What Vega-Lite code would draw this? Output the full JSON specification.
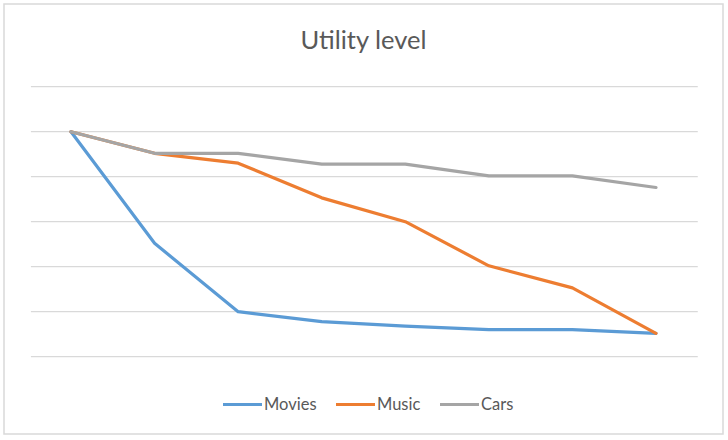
{
  "$schema": "https://vega.github.io/schema/vega-lite/v6.json",
  "width": 719,
  "height": 430,
  "autosize": {"type": "none"},
  "padding": {"left": 4, "top": 4, "right": 5, "bottom": 6},
  "background": "white",
  "config": {
    "view": {"stroke": "#d9d9d9", "strokeWidth": 1.5},
    "font": "Lato"
  },
  "title": {
    "text": "Utility level",
    "font": "Lato",
    "fontSize": 25.5,
    "fontWeight": "normal",
    "color": "#595959",
    "anchor": "middle",
    "frame": "group",
    "offset": -50
  },
  "datasets": {
    "series": [
      {"step": 1, "series": "Movies", "value": 5.0},
      {"step": 2, "series": "Movies", "value": 2.52},
      {"step": 3, "series": "Movies", "value": 1.0},
      {"step": 4, "series": "Movies", "value": 0.78},
      {"step": 5, "series": "Movies", "value": 0.68},
      {"step": 6, "series": "Movies", "value": 0.6},
      {"step": 7, "series": "Movies", "value": 0.6},
      {"step": 8, "series": "Movies", "value": 0.52},
      {"step": 1, "series": "Music", "value": 5.0},
      {"step": 2, "series": "Music", "value": 4.52},
      {"step": 3, "series": "Music", "value": 4.3},
      {"step": 4, "series": "Music", "value": 3.53},
      {"step": 5, "series": "Music", "value": 3.0},
      {"step": 6, "series": "Music", "value": 2.02},
      {"step": 7, "series": "Music", "value": 1.53},
      {"step": 8, "series": "Music", "value": 0.52},
      {"step": 1, "series": "Cars", "value": 5.0},
      {"step": 2, "series": "Cars", "value": 4.52},
      {"step": 3, "series": "Cars", "value": 4.52},
      {"step": 4, "series": "Cars", "value": 4.28},
      {"step": 5, "series": "Cars", "value": 4.28},
      {"step": 6, "series": "Cars", "value": 4.02},
      {"step": 7, "series": "Cars", "value": 4.02},
      {"step": 8, "series": "Cars", "value": 3.76}
    ],
    "grid": [
      {"g": 0}, {"g": 1}, {"g": 2}, {"g": 3}, {"g": 4}, {"g": 5}, {"g": 6}
    ]
  },
  "layer": [
    {
      "data": {"name": "grid"},
      "mark": {"type": "rule", "color": "#d9d9d9", "strokeWidth": 1.3},
      "encoding": {
        "y": {
          "field": "g",
          "type": "quantitative",
          "scale": {"domain": [-1.718, 7.838], "nice": false, "zero": false},
          "axis": null
        },
        "x": {
          "datum": 0.52,
          "type": "quantitative",
          "scale": {"domain": [0.198, 8.802], "nice": false, "zero": false},
          "axis": null
        },
        "x2": {"datum": 8.5}
      }
    },
    {
      "data": {"name": "series"},
      "mark": {"type": "line", "strokeWidth": 3.2, "strokeCap": "round", "strokeJoin": "round"},
      "encoding": {
        "x": {"field": "step", "type": "quantitative", "axis": null},
        "y": {"field": "value", "type": "quantitative", "axis": null},
        "color": {
          "field": "series",
          "type": "nominal",
          "sort": ["Movies", "Music", "Cars"],
          "scale": {
            "domain": ["Movies", "Music", "Cars"],
            "range": ["#5B9BD5", "#ED7D31", "#A5A5A5"]
          },
          "legend": {
            "title": null,
            "orient": "none",
            "direction": "horizontal",
            "legendX": 217,
            "legendY": 379,
            "padding": 0,
            "symbolType": "stroke",
            "symbolSize": 1521,
            "symbolStrokeWidth": 3.2,
            "labelFont": "Lato",
            "labelFontSize": 16.5,
            "labelColor": "#595959",
            "labelOffset": 0,
            "columnPadding": 12
          }
        }
      }
    }
  ]
}
